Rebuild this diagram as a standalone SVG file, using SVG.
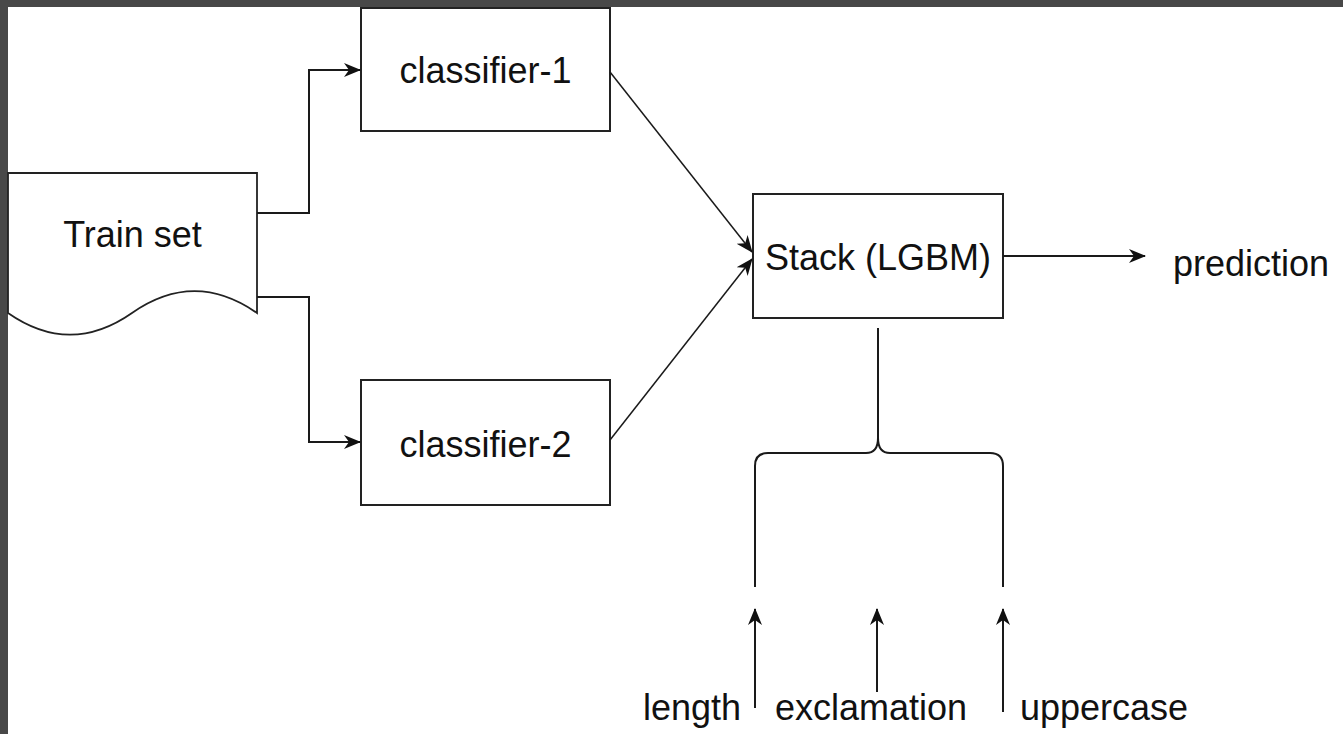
<svg xmlns="http://www.w3.org/2000/svg" width="1343" height="734" viewBox="0 0 1343 734">
  <style>
    .box { fill: #ffffff; stroke: #222222; stroke-width: 2; }
    .wave { fill: #ffffff; stroke: #222222; stroke-width: 1.8; }
    .lbl { font-family: "Liberation Sans", Arial, Helvetica, sans-serif; font-size: 36px; fill: #111111; }
    .mid { text-anchor: middle; }
    .conn { fill: none; stroke: #1a1a1a; stroke-width: 2; }
    .thin { stroke-width: 1.5; }
  </style>
  <defs>
    <marker id="arrow" markerUnits="userSpaceOnUse" markerWidth="18" markerHeight="16" refX="16" refY="8" orient="auto">
      <path d="M0,1 L17,8 L0,15 L5,8 Z" fill="#111111"/>
    </marker>
  </defs>

  <rect x="0" y="0" width="1343" height="734" fill="#ffffff"/>
  <rect x="0" y="0" width="1343" height="7" fill="#484848"/>
  <rect x="0" y="0" width="8" height="734" fill="#484848"/>

  <g id="train-set">
    <path class="wave" d="M8,173 H257 V313 C215.5,284 173.5,284 132,313 C90.5,342 49.5,342 8,313 Z"/>
    <text class="lbl mid" x="132.5" y="247">Train set</text>
  </g>

  <g id="classifier-1">
    <rect class="box" x="361" y="8" width="249" height="123"/>
    <text class="lbl mid" x="485.5" y="83">classifier-1</text>
  </g>

  <g id="classifier-2">
    <rect class="box" x="361" y="380" width="249" height="125"/>
    <text class="lbl mid" x="485.5" y="457">classifier-2</text>
  </g>

  <g id="stack">
    <rect class="box" x="753" y="194" width="250" height="124"/>
    <text class="lbl mid" x="878" y="270">Stack (LGBM)</text>
  </g>

  <g id="prediction">
    <text class="lbl" x="1173" y="276">prediction</text>
  </g>

  <g id="length">
    <text class="lbl" x="643" y="720">length</text>
  </g>

  <g id="exclamation">
    <text class="lbl" x="775" y="720">exclamation</text>
  </g>

  <g id="uppercase">
    <text class="lbl" x="1020" y="720">uppercase</text>
  </g>

  <g id="connectors">
    <polyline class="conn" points="257,213 309,213 309,70 360,70" marker-end="url(#arrow)"/>
    <polyline class="conn" points="257,297 309,297 309,442 360,442" marker-end="url(#arrow)"/>
    <line class="conn thin" x1="610" y1="72" x2="752" y2="252" marker-end="url(#arrow)"/>
    <line class="conn thin" x1="610" y1="440" x2="752" y2="259" marker-end="url(#arrow)"/>
    <line class="conn" x1="1003" y1="256" x2="1145" y2="256" marker-end="url(#arrow)"/>
    <path class="conn" d="M878,328 V438 Q878,453 866,453 H768 Q755,453 755,466 V587"/>
    <path class="conn" d="M878,438 Q878,453 890,453 H990 Q1003,453 1003,466 V587"/>
    <line class="conn" x1="755" y1="708" x2="755" y2="609" marker-end="url(#arrow)"/>
    <line class="conn" x1="877" y1="692" x2="877" y2="609" marker-end="url(#arrow)"/>
    <line class="conn" x1="1003" y1="712" x2="1003" y2="609" marker-end="url(#arrow)"/>
  </g>
</svg>
